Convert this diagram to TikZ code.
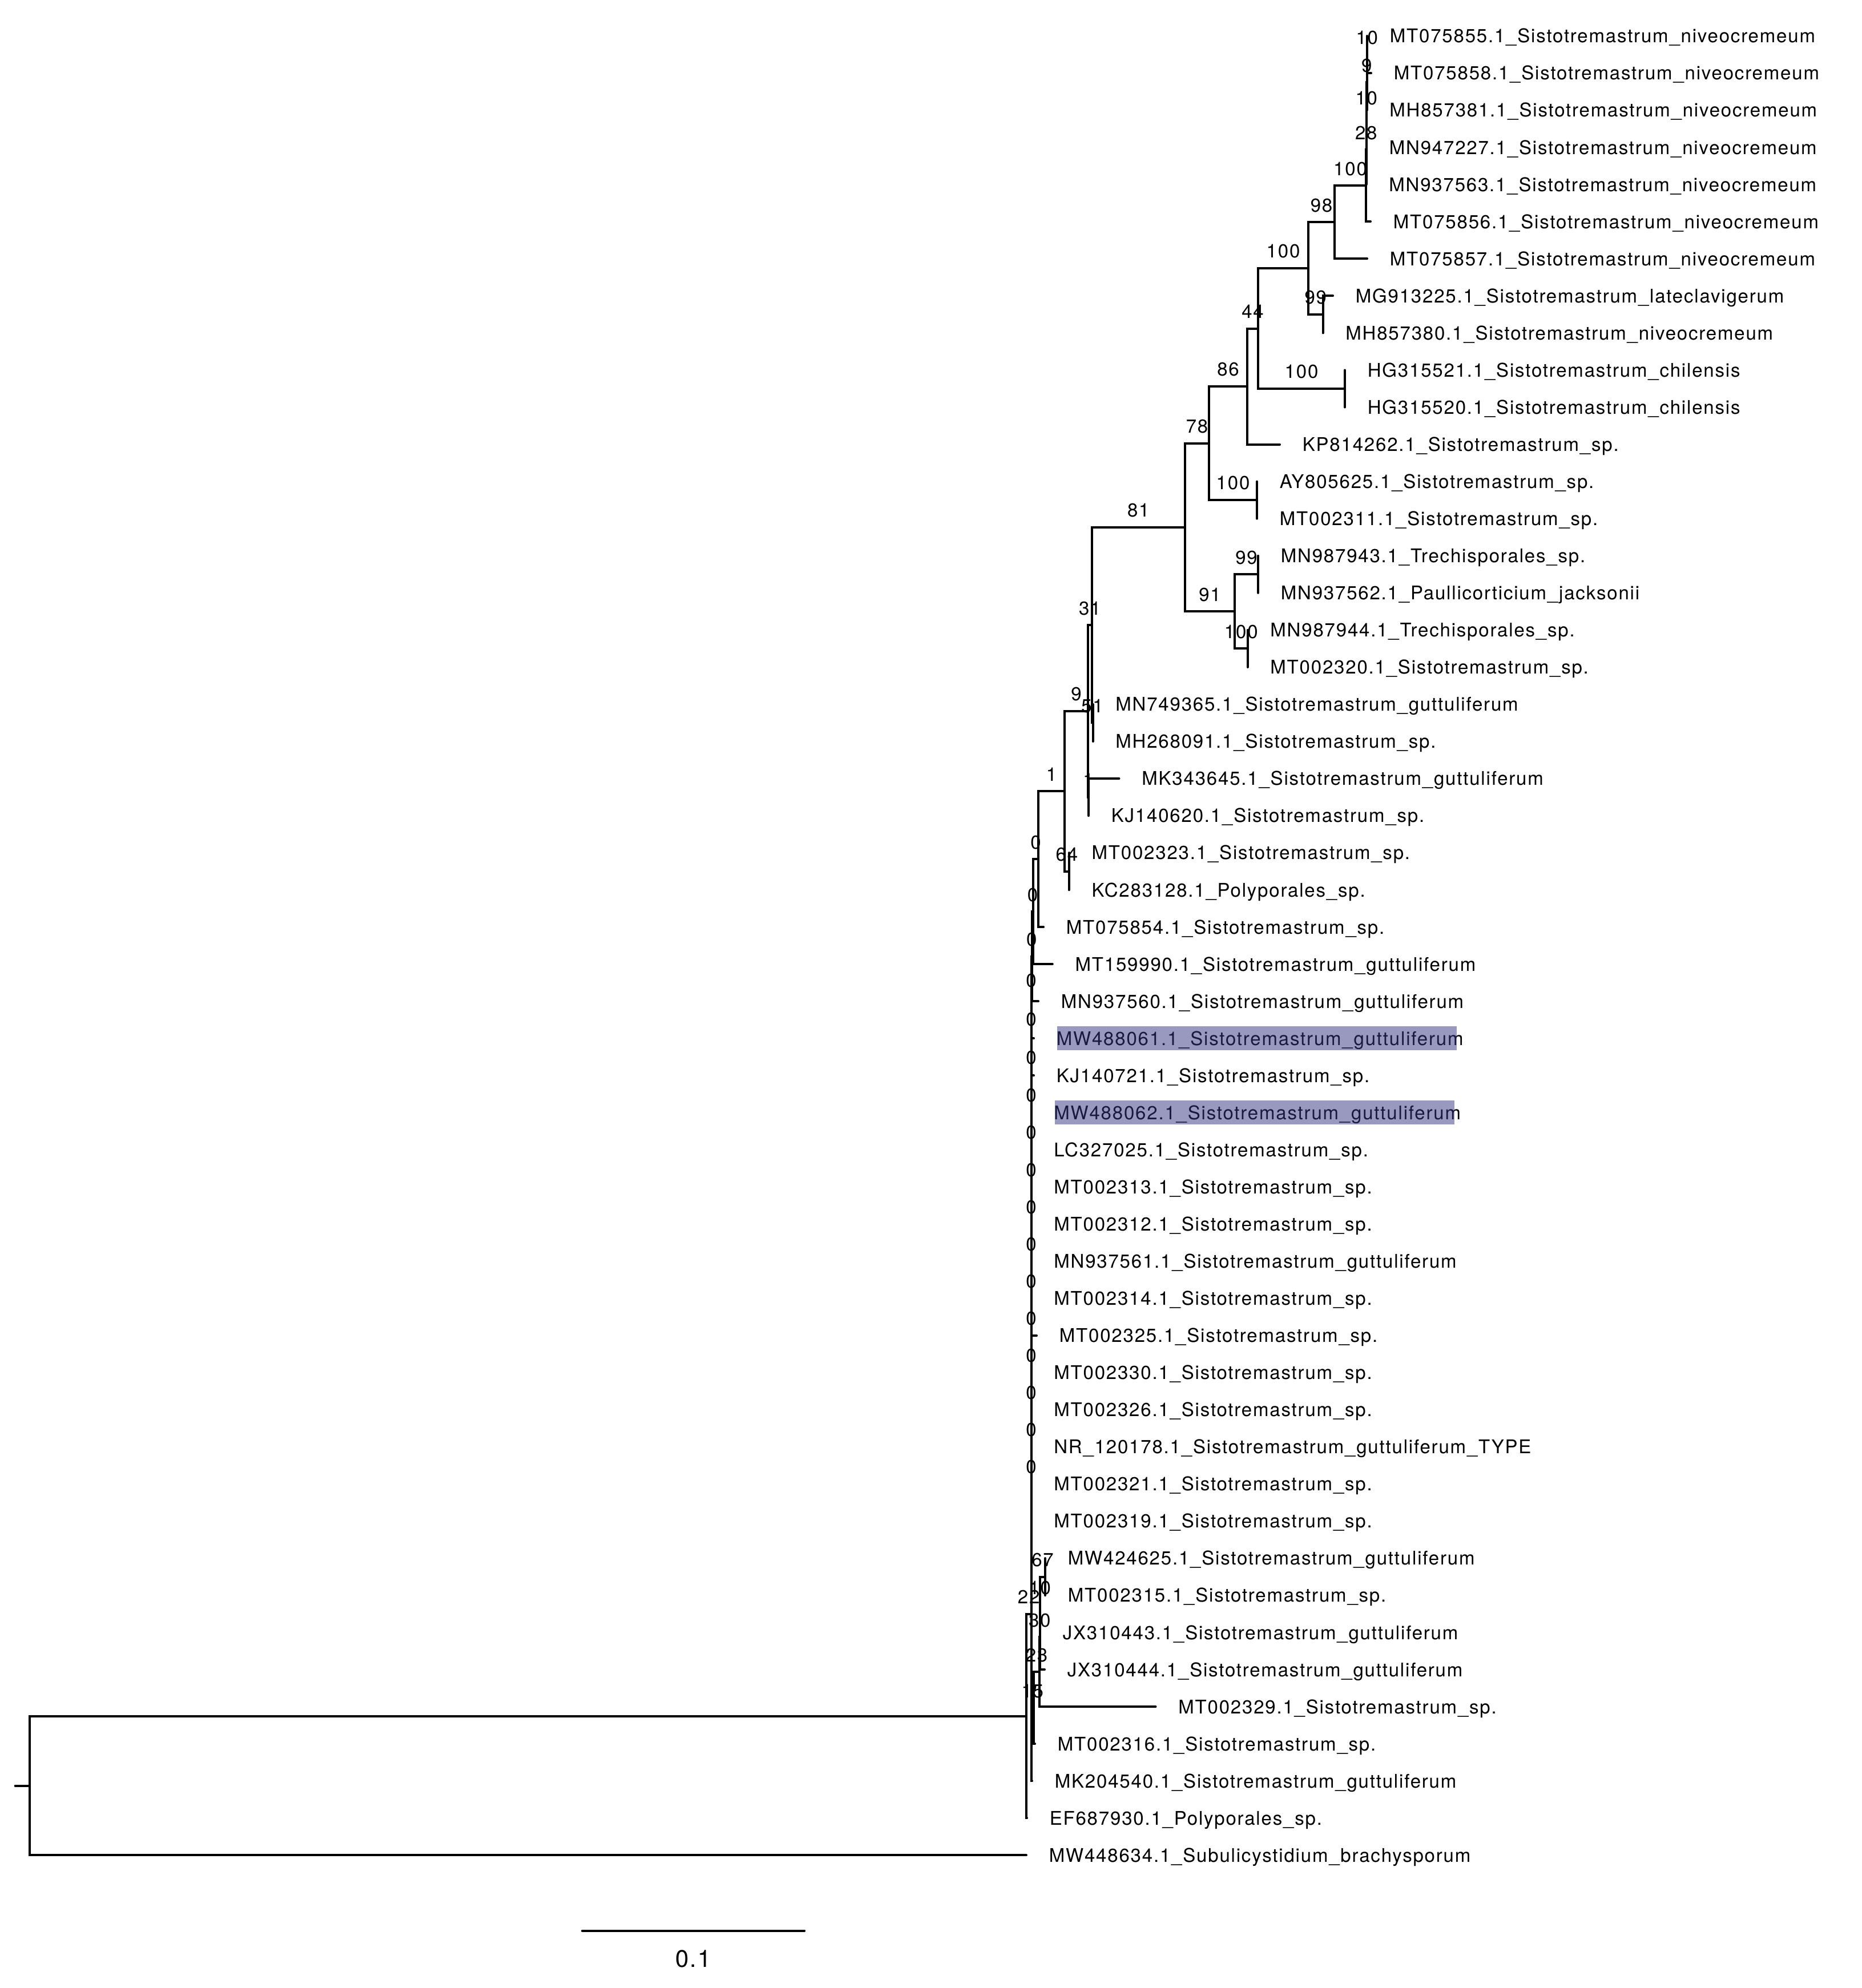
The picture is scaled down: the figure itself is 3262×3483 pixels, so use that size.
\documentclass[tikz,border=0pt]{standalone}
\usepackage{fontspec}
\setmainfont{TeX Gyre Heros}[LetterSpace=5.5]
\definecolor{hlcol}{RGB}{51,51,128}
\tikzset{
  br/.style={line width=1pt, line cap=round, line join=miter},
  tiplab/.style={anchor=base west, inner sep=0pt, font=\fontsize{8.25}{10}\selectfont},
  blab/.style={anchor=base, inner sep=0pt, font=\fontsize{8.25}{10}\selectfont},
  hlbox/.style={fill=hlcol, fill opacity=0.5, draw=none}
}
\begin{document}
\begin{tikzpicture}[x=0.25pt, y=-0.25pt]
\useasboundingbox (0,0) rectangle (3262,3483);
% tips
\foreach \i/\tx/\lab in {
0/2395/MT075855.1\_Sistotremastrum\_niveocremeum,
1/2402/MT075858.1\_Sistotremastrum\_niveocremeum,
2/2394.5/MH857381.1\_Sistotremastrum\_niveocremeum,
3/2394/MN947227.1\_Sistotremastrum\_niveocremeum,
4/2393.5/MN937563.1\_Sistotremastrum\_niveocremeum,
5/2401/MT075856.1\_Sistotremastrum\_niveocremeum,
6/2395/MT075857.1\_Sistotremastrum\_niveocremeum,
7/2335/MG913225.1\_Sistotremastrum\_lateclavigerum,
8/2317.5/MH857380.1\_Sistotremastrum\_niveocremeum,
9/2356/HG315521.1\_Sistotremastrum\_chilensis,
10/2356/HG315520.1\_Sistotremastrum\_chilensis,
11/2242/KP814262.1\_Sistotremastrum\_sp.,
12/2202/AY805625.1\_Sistotremastrum\_sp.,
13/2202/MT002311.1\_Sistotremastrum\_sp.,
14/2204/MN987943.1\_Trechisporales\_sp.,
15/2204/MN937562.1\_Paullicorticium\_jacksonii,
16/2185.6/MN987944.1\_Trechisporales\_sp.,
17/2185.6/MT002320.1\_Sistotremastrum\_sp.,
18/1914.5/MN749365.1\_Sistotremastrum\_guttuliferum,
19/1914.5/MH268091.1\_Sistotremastrum\_sp.,
20/1960.5/MK343645.1\_Sistotremastrum\_guttuliferum,
21/1907/KJ140620.1\_Sistotremastrum\_sp.,
22/1872.8/MT002323.1\_Sistotremastrum\_sp.,
23/1872.8/KC283128.1\_Polyporales\_sp.,
24/1828/MT075854.1\_Sistotremastrum\_sp.,
25/1843.75/MT159990.1\_Sistotremastrum\_guttuliferum,
26/1819/MN937560.1\_Sistotremastrum\_guttuliferum,
27/1811/MW488061.1\_Sistotremastrum\_guttuliferum,
28/1811/KJ140721.1\_Sistotremastrum\_sp.,
29/1806.5/MW488062.1\_Sistotremastrum\_guttuliferum,
30/1806.5/LC327025.1\_Sistotremastrum\_sp.,
31/1806.5/MT002313.1\_Sistotremastrum\_sp.,
32/1806.5/MT002312.1\_Sistotremastrum\_sp.,
33/1806.5/MN937561.1\_Sistotremastrum\_guttuliferum,
34/1806.5/MT002314.1\_Sistotremastrum\_sp.,
35/1816/MT002325.1\_Sistotremastrum\_sp.,
36/1806.5/MT002330.1\_Sistotremastrum\_sp.,
37/1806.5/MT002326.1\_Sistotremastrum\_sp.,
38/1806.5/NR\_120178.1\_Sistotremastrum\_guttuliferum\_TYPE,
39/1806.5/MT002321.1\_Sistotremastrum\_sp.,
40/1806.5/MT002319.1\_Sistotremastrum\_sp.,
41/1831/MW424625.1\_Sistotremastrum\_guttuliferum,
42/1831/MT002315.1\_Sistotremastrum\_sp.,
43/1822/JX310443.1\_Sistotremastrum\_guttuliferum,
44/1830/JX310444.1\_Sistotremastrum\_guttuliferum,
45/2024.5/MT002329.1\_Sistotremastrum\_sp.,
46/1813/MT002316.1\_Sistotremastrum\_sp.,
47/1808/MK204540.1\_Sistotremastrum\_guttuliferum,
48/1799/EF687930.1\_Polyporales\_sp.,
49/1798/MW448634.1\_Subulicystidium\_brachysporum}{
  \coordinate (t\i) at (\tx, {63+65.05*\i});
  \node[tiplab] (n\i) at ([shift={(39,11.85)}]t\i) {\lab};
}
% internal nodes
\coordinate (a1) at (2395, 95.5);
\coordinate (a2) at (2394.5, 144.3);
\coordinate (a3) at (2394, 201.2);
\coordinate (a4) at (2393.5, 262.2);
\coordinate (a5) at (2393, 325.2);
\coordinate (b) at (2338, 389.25);
\coordinate (d) at (2317.5, 550.9);
\coordinate (c) at (2292, 470.1);
\coordinate (f) at (2356, 681);
\coordinate (e) at (2204, 575.5);
\coordinate (g) at (2185, 677);
\coordinate (i) at (2202, 876.1);
\coordinate (h) at (2118, 776.6);
\coordinate (l) at (2204, 1006.2);
\coordinate (m) at (2185.6, 1136.3);
\coordinate (k) at (2163, 1071.25);
\coordinate (j) at (2076, 923.9);
\coordinate (s) at (1914.5, 1266.4);
\coordinate (n) at (1912.6, 1095.2);
\coordinate (p) at (1907, 1396.5);
\coordinate (o) at (1906, 1245.85);
\coordinate (r) at (1872.8, 1526.6);
\coordinate (q) at (1865, 1386.2);
\coordinate (L1) at (1819, 1505.2);
\coordinate (L2) at (1810.3, 1597.2);
\coordinate (L3) at (1808, 1675.75);
\coordinate (L4) at (1806.5, 1747.55);
\coordinate (L5) at (1806.5, 1816);
\coordinate (L6) at (1806.5, 1882.7);
\coordinate (L7) at (1806.5, 1948.6);
\coordinate (L8) at (1806.5, 2014.1);
\coordinate (L9) at (1806.5, 2079.35);
\coordinate (L10) at (1806.5, 2144.5);
\coordinate (L11) at (1806.5, 2209.6);
\coordinate (L12) at (1806.5, 2274.7);
\coordinate (L13) at (1806.5, 2339.75);
\coordinate (L14) at (1806.5, 2404.8);
\coordinate (L15) at (1806.5, 2469.85);
\coordinate (L16) at (1806.5, 2534.9);
\coordinate (L17) at (1806.5, 2599.95);
\coordinate (u67) at (1831, 2762.6);
\coordinate (u10) at (1822, 2811.4);
\coordinate (u30) at (1821.5, 2868.3);
\coordinate (u23) at (1821, 2929.3);
\coordinate (u15) at (1811, 2992.3);
\coordinate (uMK) at (1806.5, 3056.3);
\coordinate (J) at (1806.5, 2828.1);
\coordinate (I) at (1797.8, 3006.75);
\coordinate (R) at (51.7, 3128.6);
\coordinate (rootstub) at (26.7, 3128.6);
% branches
\draw[br] (t0) -| (a1) |- (t1);
\draw[br] (a1) -| (a2) |- (t2);
\draw[br] (a2) -| (a3) |- (t3);
\draw[br] (a3) -| (a4) |- (t4);
\draw[br] (a4) -| (a5) |- (t5);
\draw[br] (a5) -| (b) |- (t6);
\draw[br] (t7) -| (d) |- (t8);
\draw[br] (b) -| (c) |- (d);
\draw[br] (t9) -| (f) |- (t10);
\draw[br] (c) -| (e) |- (f);
\draw[br] (e) -| (g) |- (t11);
\draw[br] (t12) -| (i) |- (t13);
\draw[br] (g) -| (h) |- (i);
\draw[br] (t14) -| (l) |- (t15);
\draw[br] (t16) -| (m) |- (t17);
\draw[br] (l) -| (k) |- (m);
\draw[br] (h) -| (j) |- (k);
\draw[br] (t18) -| (s) |- (t19);
\draw[br] (j) -| (n) |- (s);
\draw[br] (t20) -| (p) |- (t21);
\draw[br] (n) -| (o) |- (p);
\draw[br] (t22) -| (r) |- (t23);
\draw[br] (o) -| (q) |- (r);
\draw[br] (q) -| (L1) |- (t24);
\draw[br] (L1) -| (L2) |- (t25);
\draw[br] (L2) -| (L3) |- (t26);
\draw[br] (L3) -| (L4) |- (t27);
\draw[br] (L4) -| (L5) |- (t28);
\draw[br] (L5) -| (L6) |- (t29);
\draw[br] (L6) -| (L7) |- (t30);
\draw[br] (L7) -| (L8) |- (t31);
\draw[br] (L8) -| (L9) |- (t32);
\draw[br] (L9) -| (L10) |- (t33);
\draw[br] (L10) -| (L11) |- (t34);
\draw[br] (L11) -| (L12) |- (t35);
\draw[br] (L12) -| (L13) |- (t36);
\draw[br] (L13) -| (L14) |- (t37);
\draw[br] (L14) -| (L15) |- (t38);
\draw[br] (L15) -| (L16) |- (t39);
\draw[br] (L16) -| (L17) |- (t40);
\draw[br] (t41) -| (u67) |- (t42);
\draw[br] (u67) -| (u10) |- (t43);
\draw[br] (u10) -| (u30) |- (t44);
\draw[br] (u30) -| (u23) |- (t45);
\draw[br] (u23) -| (u15) |- (t46);
\draw[br] (u15) -| (uMK) |- (t47);
\draw[br] (L17) -| (J) |- (uMK);
\draw[br] (J) -| (I) |- (t48);
\draw[br] (I) -| (R) |- (t49);
\draw[br] (rootstub) -- (R);
% support values
\node[blab] (la1) at (2394.75, 77.35) {10};
\node[blab] (la2) at (2394.25, 126.15) {9};
\node[blab] (la3) at (2393.75, 183.05) {10};
\node[blab] (la4) at (2393.25, 244.05) {28};
\node[blab] (la5) at (2365.5, 307.05) {100};
\node[blab] (lb) at (2315, 371.1) {98};
\node[blab] (lc) at (2248, 451.95) {100};
\node[blab] (ld) at (2304.75, 532.75) {99};
\node[blab] (le) at (2194.5, 557.35) {44};
\node[blab] (lf) at (2280, 662.85) {100};
\node[blab] (lg) at (2151.5, 658.85) {86};
\node[blab] (lh) at (2097, 758.45) {78};
\node[blab] (li) at (2160, 857.95) {100};
\node[blab] (lj) at (1994.3, 905.75) {81};
\node[blab] (lk) at (2119.5, 1053.1) {91};
\node[blab] (ll) at (2183.5, 988.05) {99};
\node[blab] (lm) at (2174.3, 1118.15) {100};
\node[blab] (ln) at (1909.3, 1077.05) {31};
\node[blab] (ls) at (1913.5, 1248.25) {51};
\node[blab] (lo) at (1885.5, 1227.7) {9};
\node[blab] (lp) at (1906.5, 1378.35) {1};
\node[blab] (lq) at (1842, 1368.05) {1};
\node[blab] (lr) at (1868.9, 1508.45) {64};
\node[blab] (lL1) at (1814.65, 1487.05) {0};
\node[blab] (lL2) at (1809.15, 1579.05) {0};
\node[blab] (lL3) at (1807.25, 1657.6) {0};
\node[blab] (lL4) at (1806.5, 1729.4) {0};
\node[blab] (lL5) at (1806.5, 1797.85) {0};
\node[blab] (lL6) at (1806.5, 1864.55) {0};
\node[blab] (lL7) at (1806.5, 1930.45) {0};
\node[blab] (lL8) at (1806.5, 1995.95) {0};
\node[blab] (lL9) at (1806.5, 2061.2) {0};
\node[blab] (lL10) at (1806.5, 2126.35) {0};
\node[blab] (lL11) at (1806.5, 2191.45) {0};
\node[blab] (lL12) at (1806.5, 2256.55) {0};
\node[blab] (lL13) at (1806.5, 2321.6) {0};
\node[blab] (lL14) at (1806.5, 2386.65) {0};
\node[blab] (lL15) at (1806.5, 2451.7) {0};
\node[blab] (lL16) at (1806.5, 2516.75) {0};
\node[blab] (lL17) at (1806.5, 2581.8) {0};
\node[blab] (lu67) at (1826.5, 2744.45) {67};
\node[blab] (lu10) at (1821.75, 2793.25) {10};
\node[blab] (lu30) at (1821.25, 2850.15) {30};
\node[blab] (lu23) at (1816, 2911.15) {23};
\node[blab] (lu15) at (1808.75, 2974.15) {15};
\node[blab] (lJ) at (1802.15, 2809.95) {22};
% highlight boxes
\fill[hlbox] ([shift={(41,-21)}]t27) rectangle ([shift={(741,21)}]t27);
\fill[hlbox] ([shift={(41,-21)}]t29) rectangle ([shift={(741,21)}]t29);
% scale bar
\coordinate (sb1) at (1020, 3382.7);
\coordinate (sb2) at (1409.3, 3382.7);
\draw[br] (sb1) -- (sb2);
\node[anchor=base, inner sep=0pt, font=\fontsize{10.5}{12}\selectfont] (sblab) at (1214.6, 3446.8) {0.1};
\end{tikzpicture}
\end{document}
